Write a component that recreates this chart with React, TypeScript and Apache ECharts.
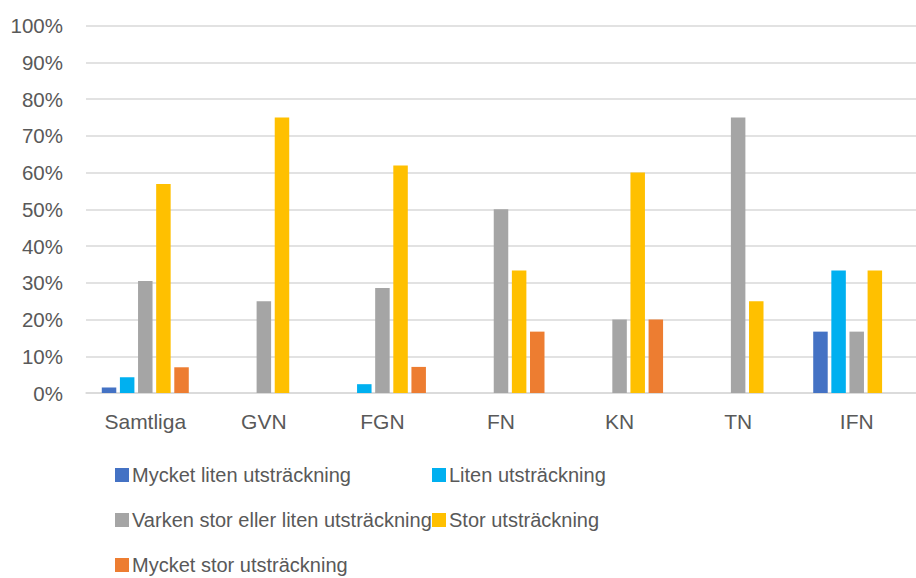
import React, { useEffect, useRef } from "react";
import * as echarts from "echarts";

const categories = ["Samtliga", "GVN", "FGN", "FN", "KN", "TN", "IFN"];
const seriesNames = [
  "Mycket liten utsträckning",
  "Liten utsträckning",
  "Varken stor eller liten utsträckning",
  "Stor utsträckning",
  "Mycket stor utsträckning",
];
const mycketLiten = [1.5, 0, 0, 0, 0, 0, 16.7];
const liten = [4.3, 0, 2.4, 0, 0, 0, 33.3];
const varken = [30.5, 25, 28.6, 50, 20, 75, 16.7];
const stor = [56.9, 75, 61.9, 33.3, 60, 25, 33.3];
const mycketStor = [7.0, 0, 7.1, 16.7, 20, 0, 0];
const colors = ["#4472C4", "#00B0F0", "#A5A5A5", "#FFC000", "#ED7D31"];

const FONT = "'Liberation Sans', Arial, sans-serif";
const TEXT = "#595959";

export default function App() {
  const ref = useRef<HTMLDivElement>(null);
  useEffect(() => {
    if (!ref.current) return;
    const chart = echarts.init(ref.current, null, { renderer: "svg" });
    const values = [mycketLiten, liten, varken, stor, mycketStor];
    const legendPos = [
      { left: 115, top: 465 },
      { left: 432, top: 465 },
      { left: 115, top: 510 },
      { left: 432, top: 510 },
      { left: 115, top: 555 },
    ];
    chart.setOption({
      animation: false,
      grid: { left: 86, top: 25.5, height: 367.5, width: 838, containLabel: false },
      xAxis: {
        type: "category",
        data: categories,
        axisTick: { show: false },
        axisLine: { lineStyle: { color: "#D9D9D9", width: 1.5 } },
        axisLabel: { color: TEXT, fontSize: 21, fontFamily: FONT, margin: 18 },
      },
      yAxis: {
        type: "value",
        min: 0,
        max: 100,
        interval: 10,
        axisLine: { show: false },
        axisTick: { show: false },
        splitLine: { lineStyle: { color: "#D9D9D9", width: 1.5 } },
        axisLabel: { color: TEXT, fontSize: 20.5, fontFamily: FONT, margin: 23, formatter: "{value}%" },
      },
      legend: seriesNames.map((n, i) => ({
        data: [n],
        left: legendPos[i].left,
        top: legendPos[i].top,
        itemWidth: 14,
        itemHeight: 14,
        icon: "rect",
        padding: 0,
        textStyle: { color: TEXT, fontSize: 20, fontFamily: FONT, padding: [0, 0, 0, -2] },
      })),
      series: seriesNames.map((n, i) => ({
        name: n,
        type: "bar",
        data: values[i],
        barWidth: 14.5,
        barGap: "25%",
        itemStyle: { color: colors[i] },
      })),
    });
    return () => chart.dispose();
  }, []);
  return <div ref={ref} style={{ width: 916, height: 578, position: "absolute", left: 0, top: 0 }} />;
}
